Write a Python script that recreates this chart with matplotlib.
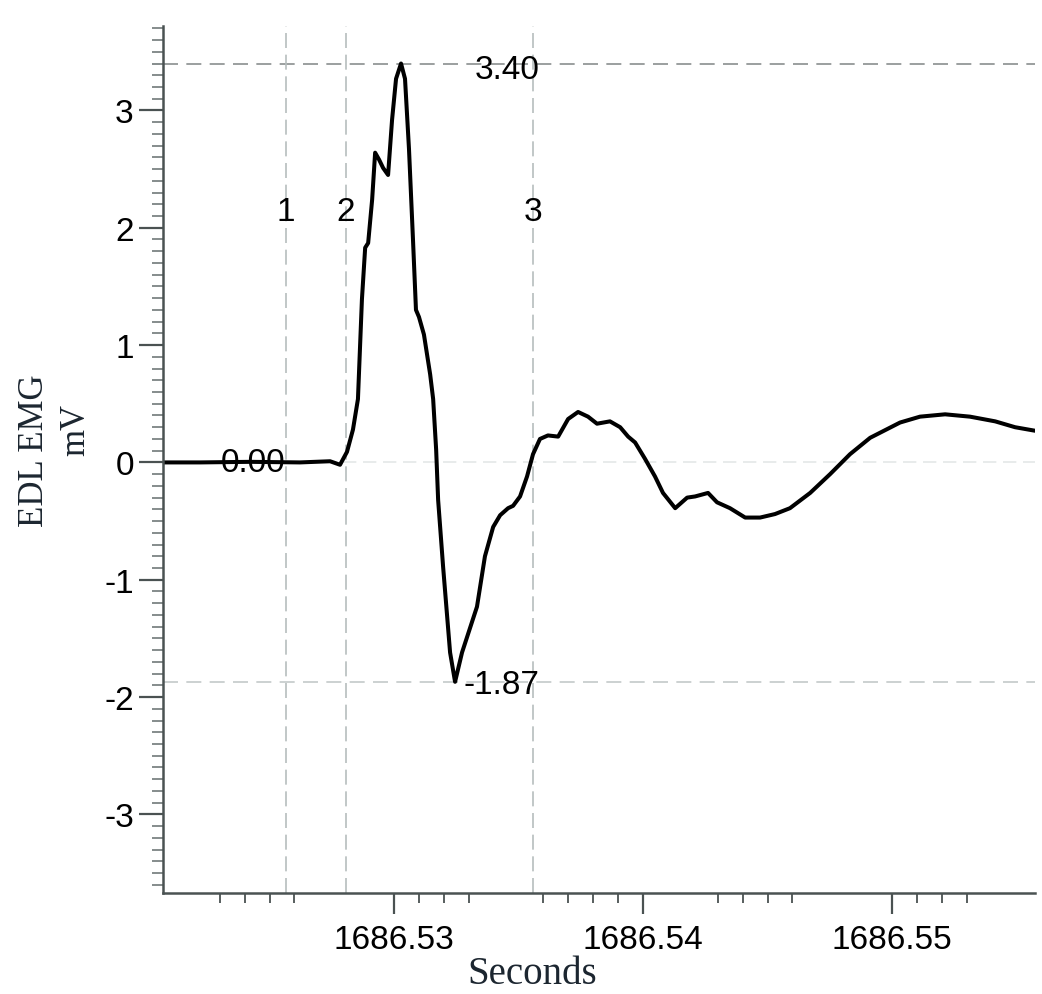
import matplotlib
matplotlib.use("Agg")
import matplotlib.pyplot as plt
import numpy as np

plt.rcParams['axes.unicode_minus'] = False

# trace (seconds, mV)
t = [1686.52072, 1686.52221, 1686.52422, 1686.52622, 1686.52743, 1686.52783,
     1686.52811, 1686.52835, 1686.52855, 1686.52871, 1686.52884, 1686.52896,
     1686.52912, 1686.52924, 1686.52940, 1686.52956, 1686.52976, 1686.52992,
     1686.53008, 1686.53028, 1686.53044, 1686.53060, 1686.53076, 1686.53088,
     1686.53100, 1686.53120, 1686.53145, 1686.53157, 1686.53169, 1686.53177,
     1686.53197, 1686.53225, 1686.53245, 1686.53273, 1686.53313, 1686.53333,
     1686.53365, 1686.53398, 1686.53426, 1686.53458, 1686.53478, 1686.53506,
     1686.53534, 1686.53558, 1686.53586, 1686.53618, 1686.53659, 1686.53699,
     1686.53739, 1686.53779, 1686.53815, 1686.53867, 1686.53908, 1686.53940,
     1686.53968, 1686.54008, 1686.54048, 1686.54080, 1686.54129, 1686.54177,
     1686.54209, 1686.54261, 1686.54297, 1686.54349, 1686.54410, 1686.54470,
     1686.54530, 1686.54590, 1686.54671, 1686.54751, 1686.54831, 1686.54912,
     1686.55032, 1686.55112, 1686.55213, 1686.55313, 1686.55414, 1686.55494,
     1686.55574]
mv = [0.0, 0.0, 0.005, 0.0, 0.01, -0.02,
      0.09, 0.28, 0.54, 1.39, 1.83, 1.87,
      2.24, 2.64, 2.58, 2.51, 2.45, 2.92,
      3.27, 3.40, 3.27, 2.67, 1.90, 1.30,
      1.24, 1.09, 0.75, 0.54, 0.11, -0.32,
      -0.89, -1.62, -1.87, -1.62, -1.36, -1.23,
      -0.80, -0.55, -0.45, -0.39, -0.37, -0.29,
      -0.12, 0.07, 0.20, 0.23, 0.22, 0.37,
      0.43, 0.39, 0.33, 0.35, 0.30, 0.22,
      0.17, 0.03, -0.12, -0.26, -0.39, -0.30,
      -0.29, -0.26, -0.34, -0.39, -0.47, -0.47,
      -0.44, -0.39, -0.26, -0.10, 0.07, 0.21,
      0.34, 0.39, 0.41, 0.39, 0.35, 0.30,
      0.27]

# cursors
cursor_t = [1686.52566, 1686.52807, 1686.53558]
cursor_lbl = ['1', '2', '3']
peak_t, peak_v = 1686.53028, 3.40
trough_t, trough_v = 1686.53245, -1.87

x_major = [1686.53, 1686.54, 1686.55]
x_major_lbl = ['1686.53', '1686.54', '1686.55']
x_minor = [1686.523, 1686.524, 1686.525, 1686.526, 1686.531, 1686.532,
           1686.533, 1686.536, 1686.537, 1686.538, 1686.539, 1686.543,
           1686.544, 1686.545, 1686.546, 1686.551, 1686.552, 1686.553]
y_major = [-3, -2, -1, 0, 1, 2, 3]

fs = 24
fig = plt.figure(figsize=(10.42, 9.95), dpi=100)
ax = fig.add_axes([0.1564, 0.1015, 0.8369, 0.8714])

ax.axhline(0, color='#e4e8e8', lw=1.2, ls=(0, (8, 4)), zorder=1)
ax.axhline(peak_v, color='#8a8f8f', lw=1.2, ls=(0, (9, 5)), zorder=1)
ax.axhline(trough_v, color='#c4c9c9', lw=1.2, ls=(0, (9, 5)), zorder=1)
for xc, lb in zip(cursor_t, cursor_lbl):
    ax.axvline(xc, color='#b6bdbd', lw=1.2, ls=(0, (9, 4)), zorder=1)
    ax.text(xc, 2.14, lb, ha='center', va='center', fontsize=fs,
            family='Liberation Sans', zorder=3)

ax.plot(t, mv, color='black', lw=2.9, solid_joinstyle='round',
        solid_capstyle='round', zorder=2)

ax.text(1686.53455, peak_v - 0.05, f'{peak_v:.2f}', ha='center', va='center',
        fontsize=fs, family='Liberation Sans', zorder=3)
ax.text(1686.53430, trough_v - 0.02, f'{trough_v:.2f}', ha='center', va='center',
        fontsize=fs, family='Liberation Sans', zorder=3)
ax.text(1686.52432, 0.0, '0.00', ha='center', va='center',
        fontsize=fs, family='Liberation Sans', zorder=3)

ax.set_xlim(1686.52072, 1686.55574)
ax.set_ylim(-3.67, 3.72)

ax.set_xticks(x_major)
ax.set_xticklabels(x_major_lbl)
ax.set_xticks(x_minor, minor=True)
ax.set_yticks(y_major)
ax.set_yticklabels([str(v) for v in y_major])
ax.set_yticks(np.arange(-3.6, 3.75, 0.1), minor=True)

for s in ['top', 'right']:
    ax.spines[s].set_visible(False)
for s in ['left', 'bottom']:
    ax.spines[s].set_color('#4a5252')
    ax.spines[s].set_linewidth(1.8)

ax.tick_params(axis='both', which='major', direction='out', color='#4a5252',
               width=1.6, labelsize=fs, labelfontfamily='Liberation Sans')
ax.tick_params(axis='y', which='major', length=17, pad=4)
ax.tick_params(axis='x', which='major', length=15, pad=7)
ax.tick_params(axis='y', which='minor', length=8, width=1.3, color='#7c8484')
ax.tick_params(axis='x', which='minor', length=7, width=1.3, color='#4a5252')

fig.text(0.511, 0.002, 'Seconds', ha='center', va='bottom', fontsize=28,
         family='Liberation Serif', color='#1c2630')
fig.text(0.033, 0.547, 'EDL EMG', ha='center', va='center', rotation=90,
         fontsize=25, family='Liberation Serif', color='#1c2630')
fig.text(0.073, 0.568, 'mV', ha='center', va='center', rotation=90,
         fontsize=25, family='Liberation Serif', color='#1c2630')

fig.savefig('out.png', dpi=100)
